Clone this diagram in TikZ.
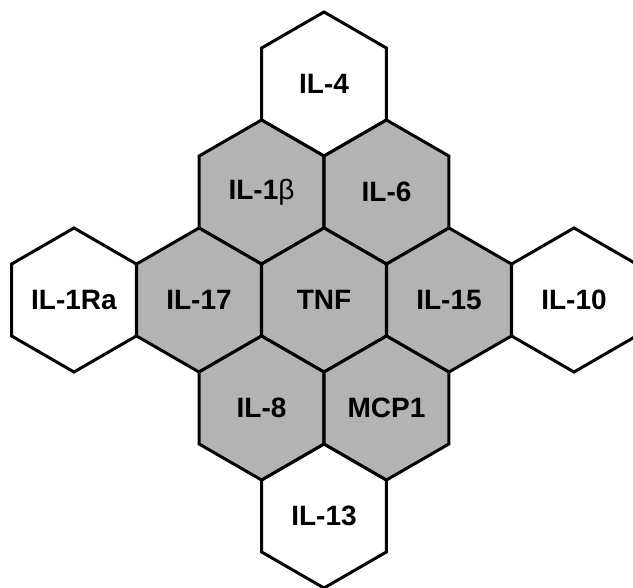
\documentclass[tikz,border=0pt]{standalone}
\usepackage{fontspec}
\setmainfont{Liberation Sans}
\usetikzlibrary{shapes.geometric}
\definecolor{hexgray}{RGB}{179,179,179}
\begin{document}
\begin{tikzpicture}[x=1pt,y=-1pt,
  hexcell/.style={shape=regular polygon, regular polygon sides=6, shape border rotate=90,
    minimum size=144pt, inner sep=0pt, outer sep=0pt, draw=black, line width=3pt,
    font=\fontsize{28}{30}\selectfont\bfseries},
  outer/.style={hexcell, fill=white},
  inner/.style={hexcell, fill=hexgray}]
\useasboundingbox (0,0) rectangle (633,588);
\node[outer] (il4)   at (324,84)    {IL-4};
\node[outer] (il1ra) at (74,300)    {IL-1Ra};
\node[outer] (il10)  at (574,300)   {IL-10};
\node[outer] (il13)  at (324,516)   {IL-13};
\node[inner] (il1b)  at (261.5,192) {IL-1{\mdseries β}};
\node[inner] (il6)   at (386.5,192) {IL-6};
\node[inner] (il17)  at (199,300)   {IL-17};
\node[inner] (tnf)   at (324,300)   {TNF};
\node[inner] (il15)  at (449,300)   {IL-15};
\node[inner] (il8)   at (261.5,408) {IL-8};
\node[inner] (mcp1)  at (386.5,408) {MCP1};
\end{tikzpicture}
\end{document}
